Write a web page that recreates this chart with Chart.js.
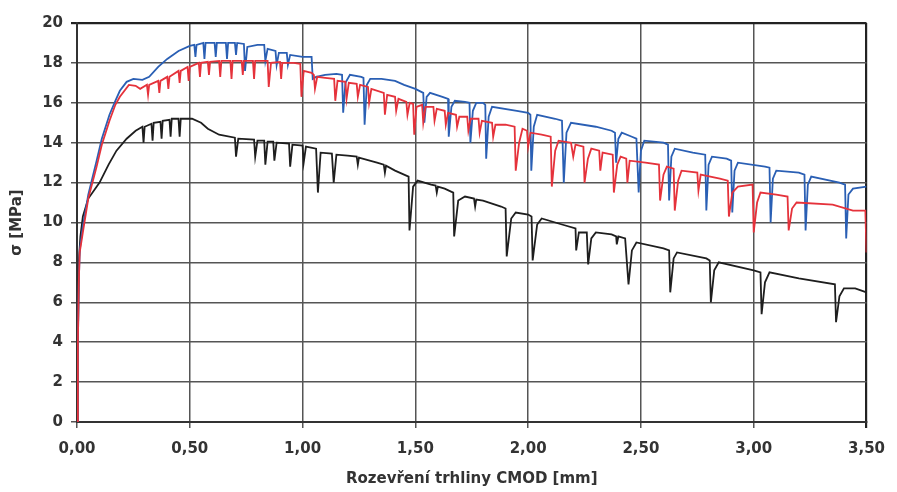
<!DOCTYPE html>
<html>
<head>
<meta charset="utf-8">
<script src="https://cdn.jsdelivr.net/npm/chart.js@4.4.0/dist/chart.umd.min.js"></script>
<style>
  html, body { margin: 0; padding: 0; background: #fff; }
  #wrap { width: 897px; height: 492px; }
</style>
</head>
<body>
<div id="wrap"><canvas id="sigmaChart" width="897" height="492"></canvas></div>
<script>
// osa x - popisky
const xTickLabels = ['0,00', '0,50', '1,00', '1,50', '2,00', '2,50', '3,00', '3,50'];

// [CMOD mm, sigma MPa]
const blackPts = [
  [0, 0], [0.004, 4], [0.008, 8], [0.015, 9.3], [0.026, 10.3], [0.05, 11.2], [0.1, 12.0], [0.14, 12.9],
  [0.175, 13.6], [0.22, 14.2], [0.26, 14.6], [0.29, 14.8], [0.295, 14.0], [0.30, 14.8], [0.33, 14.95],
  [0.335, 14.1], [0.34, 15.0], [0.37, 15.05], [0.375, 14.2], [0.38, 15.1], [0.41, 15.15], [0.415, 14.3],
  [0.42, 15.2], [0.45, 15.2], [0.455, 14.3], [0.46, 15.2], [0.51, 15.2], [0.55, 15.0], [0.58, 14.7],
  [0.63, 14.4], [0.70, 14.25], [0.705, 13.3], [0.715, 14.2], [0.785, 14.15], [0.79, 13.3], [0.80, 14.1],
  [0.83, 14.1], [0.835, 12.9], [0.845, 14.05], [0.87, 14.05], [0.875, 13.1], [0.885, 14.0], [0.94, 13.95],
  [0.945, 12.8], [0.955, 13.9], [1.0, 13.85], [1.005, 13.0], [1.015, 13.8], [1.06, 13.7], [1.068, 11.5],
  [1.08, 13.5], [1.13, 13.45], [1.138, 12.0], [1.15, 13.4], [1.2, 13.35], [1.24, 13.3], [1.245, 12.9],
  [1.25, 13.25], [1.33, 13.0], [1.36, 12.9], [1.365, 12.5], [1.37, 12.85], [1.41, 12.6], [1.47, 12.3],
  [1.474, 9.6], [1.49, 11.8], [1.51, 12.1], [1.57, 11.9], [1.59, 11.85], [1.595, 11.5], [1.60, 11.8],
  [1.63, 11.7], [1.668, 11.5], [1.672, 9.3], [1.69, 11.1], [1.72, 11.3], [1.76, 11.2], [1.765, 10.8],
  [1.77, 11.15], [1.8, 11.1], [1.88, 10.8], [1.90, 10.7], [1.905, 8.3], [1.925, 10.2], [1.945, 10.5],
  [2.0, 10.4], [2.015, 10.3], [2.02, 8.1], [2.04, 9.9], [2.06, 10.2], [2.15, 9.9], [2.21, 9.7],
  [2.213, 8.6], [2.225, 9.5], [2.26, 9.5], [2.266, 7.9], [2.28, 9.2], [2.30, 9.5], [2.37, 9.4],
  [2.39, 9.3], [2.393, 8.9], [2.40, 9.3], [2.43, 9.2], [2.445, 6.9], [2.46, 8.6], [2.48, 9.0],
  [2.6, 8.7], [2.625, 8.6], [2.63, 6.5], [2.645, 8.2], [2.66, 8.5], [2.79, 8.2], [2.805, 8.1],
  [2.81, 6.0], [2.825, 7.6], [2.845, 8.0], [3.0, 7.6], [3.03, 7.5], [3.035, 5.4], [3.05, 7.0],
  [3.07, 7.5], [3.2, 7.2], [3.36, 6.9], [3.365, 5.0], [3.38, 6.3], [3.40, 6.7], [3.45, 6.7], [3.5, 6.5]
];

const redPts = [
  [0, 0], [0.004, 4], [0.008, 7], [0.012, 8.5], [0.026, 9.5], [0.05, 11.2], [0.087, 12.8], [0.11, 13.9],
  [0.144, 15.1], [0.17, 15.9], [0.19, 16.3], [0.23, 16.9], [0.26, 16.85], [0.28, 16.7], [0.31, 16.9],
  [0.315, 16.4], [0.32, 16.9], [0.36, 17.1], [0.365, 16.5], [0.37, 17.1], [0.40, 17.3], [0.405, 16.7],
  [0.41, 17.3], [0.45, 17.6], [0.455, 17.0], [0.46, 17.6], [0.49, 17.8], [0.495, 17.1], [0.50, 17.8],
  [0.54, 18.0], [0.545, 17.3], [0.55, 18.0], [0.58, 18.05], [0.585, 17.4], [0.59, 18.05], [0.63, 18.1],
  [0.635, 17.3], [0.64, 18.1], [0.68, 18.1], [0.685, 17.2], [0.69, 18.1], [0.73, 18.1], [0.735, 17.4],
  [0.74, 18.1], [0.78, 18.1], [0.785, 17.2], [0.79, 18.1], [0.845, 18.1], [0.85, 16.8], [0.86, 18.0],
  [0.9, 18.05], [0.905, 17.2], [0.91, 18.0], [0.96, 18.0], [0.99, 17.95], [0.995, 16.3], [1.005, 17.6],
  [1.04, 17.5], [1.05, 17.4], [1.055, 16.7], [1.065, 17.3], [1.1, 17.25], [1.14, 17.2], [1.145, 16.1],
  [1.155, 17.1], [1.19, 17.05], [1.195, 16.2], [1.205, 17.0], [1.24, 16.95], [1.245, 16.3], [1.255, 16.9],
  [1.29, 16.8], [1.295, 16.0], [1.305, 16.7], [1.36, 16.5], [1.365, 15.4], [1.375, 16.4], [1.41, 16.3],
  [1.415, 15.6], [1.425, 16.2], [1.46, 16.05], [1.465, 15.4], [1.475, 16.0], [1.49, 15.95], [1.495, 14.4],
  [1.505, 15.8], [1.53, 15.9], [1.535, 15.0], [1.545, 15.8], [1.58, 15.8], [1.585, 15.1], [1.595, 15.7],
  [1.63, 15.6], [1.635, 14.9], [1.645, 15.5], [1.68, 15.4], [1.685, 14.8], [1.695, 15.3], [1.73, 15.3],
  [1.735, 14.6], [1.745, 15.2], [1.78, 15.2], [1.785, 14.5], [1.795, 15.1], [1.84, 15.0], [1.845, 14.3],
  [1.855, 14.9], [1.90, 14.9], [1.94, 14.8], [1.945, 12.6], [1.96, 14.0], [1.975, 14.7], [1.995, 14.6],
  [2.0, 13.8], [2.01, 14.5], [2.06, 14.4], [2.10, 14.3], [2.105, 11.8], [2.12, 13.6], [2.135, 14.1],
  [2.19, 14.0], [2.2, 13.3], [2.21, 13.9], [2.245, 13.8], [2.25, 12.0], [2.265, 13.2], [2.28, 13.7],
  [2.315, 13.6], [2.32, 12.6], [2.33, 13.5], [2.375, 13.4], [2.38, 11.5], [2.395, 12.9], [2.41, 13.3],
  [2.435, 13.2], [2.44, 12.0], [2.45, 13.1], [2.52, 13.0], [2.58, 12.9], [2.585, 11.1], [2.60, 12.4],
  [2.615, 12.8], [2.645, 12.7], [2.65, 10.6], [2.665, 12.1], [2.68, 12.6], [2.75, 12.5], [2.755, 11.6],
  [2.765, 12.4], [2.85, 12.2], [2.885, 12.1], [2.89, 10.3], [2.905, 11.5], [2.93, 11.8], [2.995, 11.9],
  [3.0, 9.5], [3.015, 11.0], [3.03, 11.5], [3.1, 11.4], [3.15, 11.3], [3.155, 9.6], [3.17, 10.7],
  [3.19, 11.0], [3.35, 10.9], [3.44, 10.6], [3.495, 10.6], [3.5, 8.5]
];

const bluePts = [
  [0, 0], [0.004, 4], [0.008, 7], [0.012, 8.6], [0.026, 9.8], [0.05, 11.4], [0.087, 13.1], [0.11, 14.2],
  [0.144, 15.4], [0.17, 16.1], [0.19, 16.6], [0.22, 17.05], [0.25, 17.2], [0.29, 17.15], [0.32, 17.3],
  [0.36, 17.8], [0.40, 18.2], [0.45, 18.6], [0.50, 18.85], [0.52, 18.9], [0.525, 18.3], [0.53, 18.9],
  [0.56, 19.0], [0.565, 18.2], [0.57, 19.0], [0.61, 19.0], [0.615, 18.3], [0.62, 19.0], [0.66, 19.0],
  [0.665, 18.2], [0.67, 19.0], [0.70, 19.0], [0.705, 18.4], [0.71, 19.0], [0.74, 18.95], [0.745, 17.6],
  [0.755, 18.8], [0.80, 18.9], [0.83, 18.9], [0.835, 18.1], [0.845, 18.7], [0.88, 18.6], [0.885, 17.9],
  [0.895, 18.5], [0.93, 18.5], [0.935, 17.9], [0.945, 18.4], [1.0, 18.3], [1.04, 18.3], [1.045, 17.2],
  [1.06, 17.3], [1.10, 17.4], [1.15, 17.45], [1.175, 17.4], [1.18, 15.5], [1.19, 17.0], [1.21, 17.4],
  [1.26, 17.3], [1.27, 17.25], [1.275, 14.9], [1.285, 16.9], [1.30, 17.2], [1.35, 17.2], [1.41, 17.1],
  [1.45, 16.9], [1.50, 16.7], [1.535, 16.5], [1.54, 15.0], [1.55, 16.3], [1.565, 16.5], [1.62, 16.3],
  [1.645, 16.2], [1.648, 14.3], [1.66, 15.8], [1.675, 16.1], [1.72, 16.05], [1.74, 16.0], [1.744, 14.0],
  [1.755, 15.6], [1.77, 16.0], [1.80, 16.0], [1.81, 15.9], [1.814, 13.2], [1.825, 15.3], [1.84, 15.8],
  [1.95, 15.6], [2.0, 15.5], [2.01, 15.4], [2.014, 12.6], [2.025, 14.8], [2.04, 15.4], [2.12, 15.2],
  [2.15, 15.1], [2.158, 12.0], [2.17, 14.5], [2.19, 15.0], [2.30, 14.8], [2.37, 14.6], [2.385, 14.5],
  [2.39, 13.0], [2.40, 14.2], [2.415, 14.5], [2.46, 14.3], [2.48, 14.2], [2.49, 11.5], [2.50, 13.6],
  [2.515, 14.1], [2.60, 14.0], [2.62, 13.9], [2.625, 11.1], [2.635, 13.3], [2.65, 13.7], [2.73, 13.5],
  [2.785, 13.4], [2.79, 10.6], [2.80, 12.9], [2.815, 13.3], [2.88, 13.2], [2.9, 13.1], [2.905, 10.5],
  [2.915, 12.6], [2.93, 13.0], [3.05, 12.8], [3.07, 12.75], [3.075, 10.0], [3.085, 12.2], [3.10, 12.6],
  [3.20, 12.5], [3.225, 12.4], [3.23, 9.6], [3.24, 11.9], [3.255, 12.3], [3.38, 12.0], [3.405, 11.9],
  [3.41, 9.2], [3.42, 11.4], [3.44, 11.7], [3.5, 11.8]
];

const toXY = pts => pts.map(p => ({ x: p[0], y: p[1] }));
const tickFont = { family: 'DejaVu Sans', weight: 'bold', size: 15 };

// okrajove cary grafu tmavsi
const edgeColor = (c) => (c.index === c.scale.ticks.length - 1) ? '#222' : '#555';
const edgeWidth = (c) => (c.index === c.scale.ticks.length - 1) ? 2.2 : 1.5;

const ctx = document.getElementById('sigmaChart').getContext('2d');
new Chart(ctx, {
    type: 'scatter',
    data: {
        datasets: [
            { label: 'modrá', data: toXY(bluePts), borderColor: '#2a5fb4', order: 2 },
            { label: 'červená', data: toXY(redPts), borderColor: '#e5323b', order: 1 },
            { label: 'černá', data: toXY(blackPts), borderColor: '#1e1e1e', order: 3 }
        ].map(ds => Object.assign(ds, {
            showLine: true,
            borderWidth: 1.8,
            pointRadius: 0,
            tension: 0,
            fill: false
        }))
    },
    options: {
        responsive: false,
        animation: false,
        devicePixelRatio: 1,
        layout: { padding: { left: 8, top: 23, right: 20, bottom: 0 } },
        plugins: {
            legend: { display: false },
            tooltip: { enabled: false }
        },
        scales: {
            x: {
                type: 'linear',
                min: 0,
                max: 3.5,
                afterFit: s => { s.height = 70; },
                ticks: {
                    stepSize: 0.5,
                    color: '#333',
                    font: tickFont,
                    padding: 12,
                    maxRotation: 0,
                    callback: v => xTickLabels[Math.round(v / 0.5)]
                },
                grid: { color: edgeColor, lineWidth: edgeWidth, tickLength: 6 },
                border: { color: '#333', width: 2 },
                title: {
                    display: true,
                    text: 'Rozevření trhliny CMOD [mm]',
                    color: '#333',
                    font: tickFont,
                    padding: { top: 0, bottom: 4 }
                }
            },
            y: {
                min: 0,
                max: 20,
                afterFit: s => { s.width = 69; },
                ticks: {
                    stepSize: 2,
                    color: '#333',
                    font: tickFont,
                    padding: 8
                },
                grid: { color: edgeColor, lineWidth: edgeWidth, tickLength: 6 },
                border: { color: '#333', width: 2 },
                title: {
                    display: true,
                    text: 'σ [MPa]',
                    color: '#333',
                    font: tickFont,
                    padding: 0
                }
            }
        }
    }
});
</script>
</body>
</html>
